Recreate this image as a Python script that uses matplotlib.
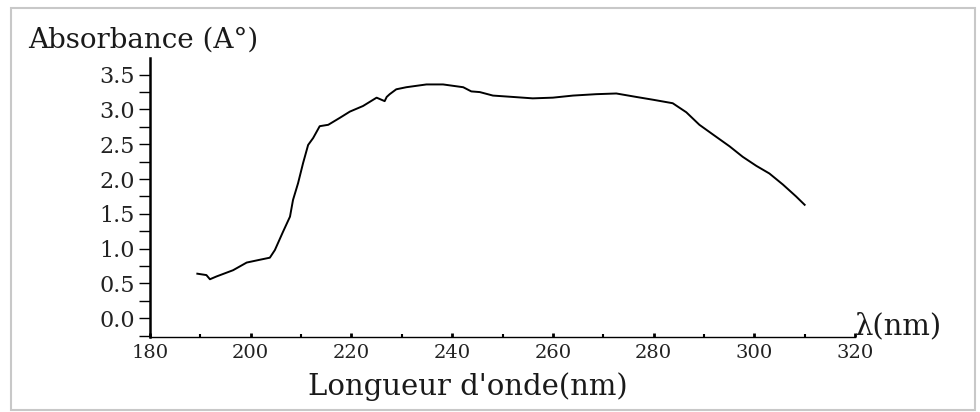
import matplotlib
matplotlib.use("Agg")
import matplotlib.pyplot as plt
from matplotlib.patches import Rectangle

# spectrum (nm, absorbance)
wavelength = [189.4, 191.2, 191.9, 193.2, 196.5, 199.2, 201.8, 203.8, 204.8, 206.4,
              207.8, 208.4, 209.4, 210.4, 211.4, 212.4, 213.7, 215.4, 217.7, 219.7,
              222.3, 225.0, 226.6, 227.0, 227.6, 228.9, 230.9, 234.9, 238.2, 242.2,
              243.8, 245.5, 248.1, 252.1, 256.0, 260.0, 264.0, 268.6, 272.6, 276.6,
              279.9, 283.8, 286.5, 289.1, 291.8, 295.1, 297.7, 300.4, 303.0, 305.7,
              308.3, 310.0]
absorbance = [0.64, 0.62, 0.56, 0.60, 0.69, 0.80, 0.84, 0.87, 0.98, 1.24,
              1.46, 1.70, 1.94, 2.23, 2.49, 2.59, 2.76, 2.78, 2.88, 2.97,
              3.05, 3.17, 3.12, 3.18, 3.22, 3.29, 3.32, 3.36, 3.36, 3.32,
              3.26, 3.25, 3.20, 3.18, 3.16, 3.17, 3.20, 3.22, 3.23, 3.18,
              3.14, 3.09, 2.96, 2.78, 2.64, 2.47, 2.32, 2.19, 2.08, 1.92,
              1.75, 1.63]

x_ticks = [180, 200, 220, 240, 260, 280, 300, 320]
y_ticks = [0.0, 0.5, 1.0, 1.5, 2.0, 2.5, 3.0, 3.5]

plt.rcParams['font.family'] = ['DejaVu Serif']

fig = plt.figure(figsize=(9.8, 4.12), dpi=100)

# light frame around the picture
fig.patches.append(Rectangle((11 / 980, 2 / 412), 964 / 980, 402 / 412,
                             transform=fig.transFigure, fill=False,
                             edgecolor='#c8c8c8', linewidth=1.5))

ax = fig.add_axes([150 / 980, 75 / 412, 705 / 980, 279 / 412])
ax.plot(wavelength, absorbance, color='black', linewidth=1.4)

ax.set_xlim(180, 320)
ax.set_ylim(-0.27, 3.74)
ax.spines['top'].set_visible(False)
ax.spines['right'].set_visible(False)
ax.spines['left'].set_linewidth(1.8)
ax.spines['bottom'].set_linewidth(1.0)

ax.set_xticks(x_ticks)
ax.set_xticklabels([str(v) for v in x_ticks])
ax.set_xticks(range(190, 320, 20), minor=True)
ax.set_yticks(y_ticks)
ax.set_yticklabels(['%.1f' % v for v in y_ticks])
ax.set_yticks([0.25 + 0.5 * i for i in range(7)] + [-0.25], minor=True)

ax.tick_params(axis='y', which='major', direction='out', length=8, width=1,
               labelsize=16, pad=3, labelcolor='#222222')
ax.tick_params(axis='y', which='minor', direction='out', length=8, width=1)
ax.tick_params(axis='x', which='major', direction='in', length=3, width=2,
               labelsize=14, pad=5, labelcolor='#222222')
ax.tick_params(axis='x', which='minor', direction='in', length=2, width=1.5)

fig.text(28 / 980, 1 - 40 / 412, 'Absorbance (A°)', fontsize=20,
         va='center', ha='left', color='#1a1a1a')
fig.text(855 / 980, 1 - 326 / 412, 'λ(nm)', fontsize=21, va='center', ha='left',
         color='#1a1a1a')
fig.text(468 / 980, 1 - 387 / 412, "Longueur d'onde(nm)", fontsize=21,
         va='center', ha='center', color='#1a1a1a')

fig.savefig('out.png', dpi=100, facecolor='white')
